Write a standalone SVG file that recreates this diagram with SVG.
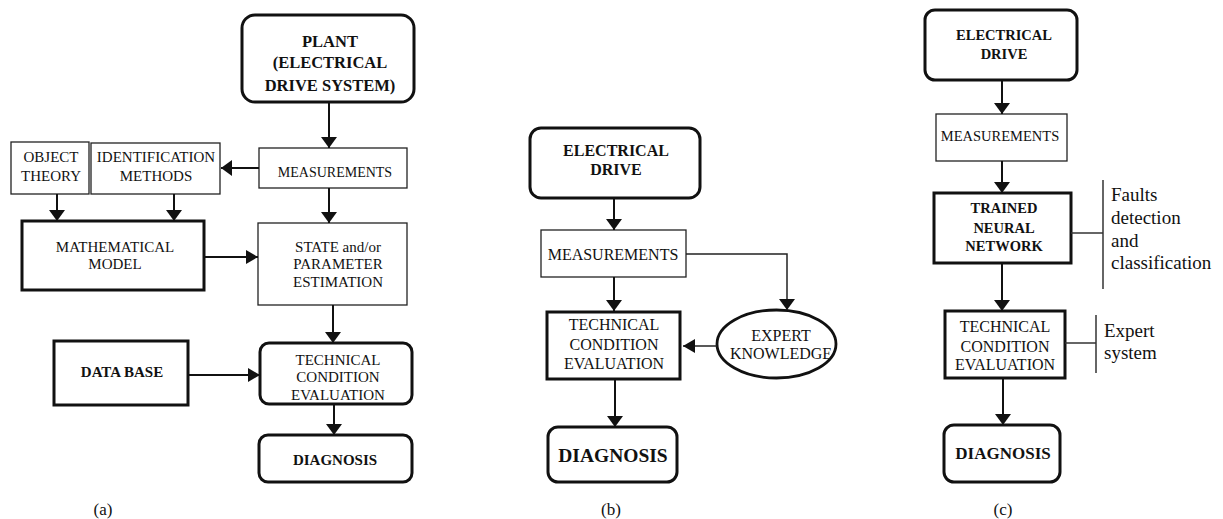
<svg xmlns="http://www.w3.org/2000/svg" width="1223" height="519" viewBox="0 0 1223 519">
<style>
text{font-family:"Liberation Serif","Times New Roman",serif;fill:#111;text-anchor:middle}
.b{font-weight:bold}
.thin{fill:#fff;stroke:#222;stroke-width:1.3}
.thick{fill:#fff;stroke:#111;stroke-width:3}
.ell{fill:#fff;stroke:#111;stroke-width:2.8}
.c{fill:none;stroke:#111;stroke-width:2}
.cl{fill:none;stroke:#222;stroke-width:1.5}
.br{fill:none;stroke:#333;stroke-width:1.5}
.lt{text-anchor:start}
</style>
<defs>
<marker id="ah" viewBox="0 0 12 14" refX="12" refY="7" markerWidth="12" markerHeight="14" markerUnits="userSpaceOnUse" orient="auto">
<path d="M0,0 L12,7 L0,14 z" fill="#111"/>
</marker>
<marker id="ahs" viewBox="0 0 11 16" refX="11" refY="8" markerWidth="11" markerHeight="16" markerUnits="userSpaceOnUse" orient="auto">
<path d="M0,0 L11,8 L0,16 z" fill="#111"/>
</marker>
</defs>

<!-- (a) -->
<g id="a-plant"><rect class="thick" x="242" y="15" width="172" height="87" rx="13"/>
<text class="b" x="330" y="47" font-size="16.5">PLANT</text>
<text class="b" x="330" y="68" font-size="16.5">(ELECTRICAL</text>
<text class="b" x="330" y="91" font-size="16.5">DRIVE SYSTEM)</text></g>
<g id="a-meas"><rect class="thin" x="259" y="148" width="148" height="40"/>
<text x="335" y="177" font-size="14">MEASUREMENTS</text></g>
<g id="a-object"><rect class="thin" x="11" y="142" width="78" height="52"/>
<text x="51" y="162" font-size="15">OBJECT</text>
<text x="51" y="181" font-size="15">THEORY</text></g>
<g id="a-ident"><rect class="thin" x="91" y="143" width="129" height="51"/>
<text x="156" y="162" font-size="15">IDENTIFICATION</text>
<text x="156" y="181" font-size="15">METHODS</text></g>
<g id="a-math"><rect class="thick" x="22" y="221" width="182" height="69"/>
<text x="115" y="252" font-size="15">MATHEMATICAL</text>
<text x="115" y="269" font-size="15">MODEL</text></g>
<g id="a-state"><rect class="thin" x="258" y="223" width="149" height="82"/>
<text x="338" y="252" font-size="15">STATE and/or</text>
<text x="338" y="269" font-size="15">PARAMETER</text>
<text x="338" y="287" font-size="15">ESTIMATION</text></g>
<g id="a-db"><rect class="thick" x="54" y="341" width="134" height="64"/>
<text class="b" x="122" y="377" font-size="15">DATA BASE</text></g>
<g id="a-tce"><rect class="thick" x="260" y="343" width="152" height="61" rx="9"/>
<text x="338" y="365" font-size="15">TECHNICAL</text>
<text x="338" y="382" font-size="15">CONDITION</text>
<text x="338" y="400" font-size="15">EVALUATION</text></g>
<g id="a-diag"><rect class="thick" x="259" y="435" width="153" height="47" rx="9"/>
<text class="b" x="335" y="465" font-size="15">DIAGNOSIS</text></g>
<text x="103" y="515" font-size="17">(a)</text>

<!-- (b) -->
<g id="b-drive"><rect class="thick" x="530" y="128" width="170" height="70" rx="11"/>
<text class="b" x="616" y="156" font-size="16">ELECTRICAL</text>
<text class="b" x="616" y="175" font-size="16">DRIVE</text></g>
<g id="b-meas"><rect class="thin" x="541" y="230" width="145" height="47"/>
<text x="613" y="259.5" font-size="16">MEASUREMENTS</text></g>
<g id="b-tce"><rect class="thick" x="547" y="312" width="133" height="67"/>
<text x="614" y="329.5" font-size="16">TECHNICAL</text>
<text x="614" y="349.5" font-size="16">CONDITION</text>
<text x="614" y="368.5" font-size="16">EVALUATION</text></g>
<g id="b-expert"><ellipse class="ell" cx="776.5" cy="344" rx="59.5" ry="34"/>
<text x="781" y="340.5" font-size="16">EXPERT</text>
<text x="781" y="359" font-size="16">KNOWLEDGE</text></g>
<g id="b-diag"><rect class="thick" x="548" y="427" width="129" height="55" rx="10"/>
<text class="b" x="613" y="461.5" font-size="19.5">DIAGNOSIS</text></g>
<text x="611" y="515" font-size="17">(b)</text>

<!-- (c) -->
<g id="c-drive"><rect class="thick" x="925" y="10" width="152" height="70" rx="10"/>
<text class="b" x="1004" y="40" font-size="14.5">ELECTRICAL</text>
<text class="b" x="1004" y="58.5" font-size="14.5">DRIVE</text></g>
<g id="c-meas"><rect class="thin" x="936" y="114" width="131" height="47"/>
<text x="1000" y="141" font-size="14.5">MEASUREMENTS</text></g>
<g id="c-tnn"><rect class="thick" x="934" y="193" width="137" height="70"/>
<text class="b" x="1004" y="213" font-size="14.5">TRAINED</text>
<text class="b" x="1004" y="232.5" font-size="14.5">NEURAL</text>
<text class="b" x="1004" y="251" font-size="14.5">NETWORK</text></g>
<g id="c-tce"><rect class="thick" x="945" y="311" width="120" height="67"/>
<text x="1005" y="332" font-size="16">TECHNICAL</text>
<text x="1005" y="352" font-size="16">CONDITION</text>
<text x="1005" y="370" font-size="16">EVALUATION</text></g>
<g id="c-diag"><rect class="thick" x="944" y="425" width="116" height="57" rx="10"/>
<text class="b" x="1003" y="459" font-size="17">DIAGNOSIS</text></g>
<g id="c-notes">
<line class="br" x1="1071" y1="233" x2="1103" y2="233"/>
<line class="br" x1="1103" y1="180" x2="1103" y2="289"/>
<text class="lt" x="1111" y="201" font-size="19">Faults</text>
<text class="lt" x="1111" y="224" font-size="19">detection</text>
<text class="lt" x="1111" y="246.5" font-size="19">and</text>
<text class="lt" x="1111" y="269" font-size="19">classification</text>
<line class="br" x1="1065" y1="343" x2="1096" y2="343"/>
<line class="br" x1="1096" y1="315" x2="1096" y2="373"/>
<text class="lt" x="1104" y="337" font-size="19">Expert</text>
<text class="lt" x="1104" y="359" font-size="19">system</text>
</g>
<text x="1003" y="515" font-size="17">(c)</text>

<g id="connectors">
<line class="c" x1="329" y1="102" x2="329" y2="148" marker-end="url(#ahs)"/>
<line class="c" x1="259" y1="168" x2="221" y2="168" marker-end="url(#ahs)"/>
<line class="c" x1="57" y1="194" x2="57" y2="221" marker-end="url(#ahs)"/>
<line class="c" x1="174" y1="194" x2="174" y2="221" marker-end="url(#ahs)"/>
<line class="c" x1="329" y1="188" x2="329" y2="223" marker-end="url(#ahs)"/>
<line class="c" x1="204" y1="257" x2="258" y2="257" marker-end="url(#ah)"/>
<line class="c" x1="333" y1="305" x2="333" y2="343" marker-end="url(#ahs)"/>
<line class="c" x1="188" y1="375" x2="260" y2="375" marker-end="url(#ah)"/>
<line class="c" x1="334" y1="404" x2="334" y2="435" marker-end="url(#ahs)"/>

<line class="c" x1="614" y1="198" x2="614" y2="230" marker-end="url(#ahs)"/>
<line class="c" x1="614" y1="277" x2="614" y2="311" marker-end="url(#ahs)"/>
<path class="cl" d="M686,254 H787 V310" marker-end="url(#ahs)"/>
<line class="cl" x1="717" y1="346" x2="683" y2="346" marker-end="url(#ah)"/>
<line class="c" x1="615" y1="379" x2="615" y2="427" marker-end="url(#ahs)"/>

<line class="c" x1="1002" y1="80" x2="1002" y2="114" marker-end="url(#ahs)"/>
<line class="c" x1="1002" y1="161" x2="1002" y2="193" marker-end="url(#ahs)"/>
<line class="c" x1="1002" y1="263" x2="1002" y2="311" marker-end="url(#ahs)"/>
<line class="c" x1="1003" y1="378" x2="1003" y2="425" marker-end="url(#ahs)"/>
</g>
</svg>
